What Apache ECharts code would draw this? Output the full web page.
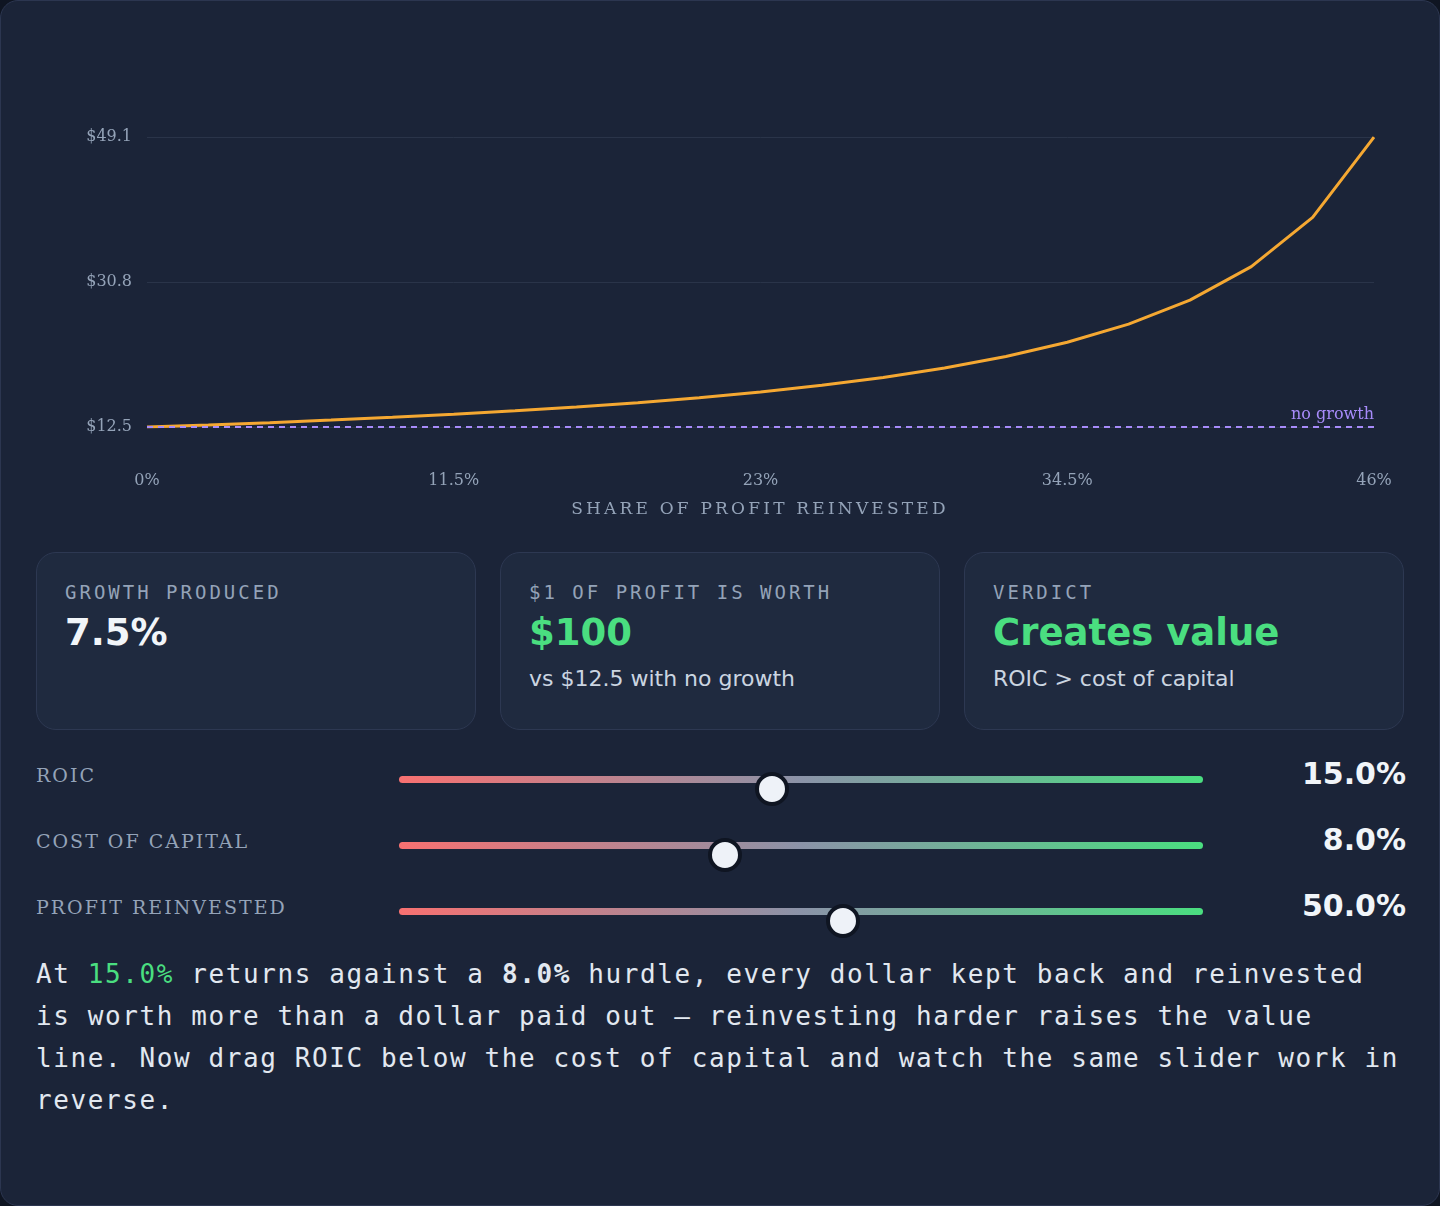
<!DOCTYPE html>
<html><head><meta charset="utf-8">
<script src="https://cdn.jsdelivr.net/npm/echarts@6/dist/echarts.min.js"></script>
<style>
body{margin:0;background:#0f1522;}
#card{position:absolute;left:0;top:0;width:1438px;height:1204px;background:#1b2438;border:1px solid #2c3650;border-radius:18px;overflow:hidden;}
#chart{position:absolute;left:0;top:0;width:1440px;height:500px;}
#xname{position:absolute;top:497px;left:0;width:1518px;text-align:center;font:17px "DejaVu Serif",serif;letter-spacing:3.2px;color:#94a3b8;}
.box{position:absolute;top:551px;width:440px;height:178px;background:#1f2a3f;border:1px solid #2d3852;border-radius:20px;box-sizing:border-box;padding:28px 28px;}
.lab{font:19px "DejaVu Sans Mono",monospace;letter-spacing:3px;color:#94a3b8;}
.val{font:bold 37px "DejaVu Sans",sans-serif;color:#f1f5f9;margin-top:8px;}
.sub{font:22px "DejaVu Sans",sans-serif;color:#cbd5e1;margin-top:12px;}
.green{color:#4ade80;}
.srow{position:absolute;left:35px;width:1370px;height:40px;}
.sl{position:absolute;left:0;top:0;font:19px "DejaVu Serif",serif;letter-spacing:2px;color:#94a3b8;}
.tr{position:absolute;left:363px;top:12px;width:804px;height:7px;border-radius:4px;background:linear-gradient(90deg,#f87171,#8b93a8 50%,#4ade80);}
.th{position:absolute;top:-4px;width:34px;height:34px;border-radius:50%;background:#eef2f8;border:4px solid #0f1522;box-sizing:border-box;transform:translateX(-17px);}
.sv{position:absolute;right:0;top:-8px;font:bold 30px "DejaVu Sans",sans-serif;color:#f1f5f9;}
#para{position:absolute;left:35px;top:952px;width:1380px;font:26px "DejaVu Sans Mono",monospace;letter-spacing:1.6px;line-height:42px;color:#e2e8f0;}
</style></head><body>
<div id="card">
<div id="chart"></div>
<div id="xname">SHARE OF PROFIT REINVESTED</div>
<div class="box" style="left:35px"><div class="lab">GROWTH PRODUCED</div><div class="val">7.5%</div></div>
<div class="box" style="left:499px"><div class="lab">$1 OF PROFIT IS WORTH</div><div class="val green">$100</div><div class="sub">vs $12.5 with no growth</div></div>
<div class="box" style="left:963px"><div class="lab">VERDICT</div><div class="val green">Creates value</div><div class="sub">ROIC &gt; cost of capital</div></div>
<div class="srow" style="top:763px"><div class="sl">ROIC</div><div class="tr"><div class="th" style="left:373px"></div></div><div class="sv">15.0%</div></div>
<div class="srow" style="top:829px"><div class="sl">COST OF CAPITAL</div><div class="tr"><div class="th" style="left:326px"></div></div><div class="sv">8.0%</div></div>
<div class="srow" style="top:895px"><div class="sl">PROFIT REINVESTED</div><div class="tr"><div class="th" style="left:444px"></div></div><div class="sv">50.0%</div></div>
<div id="para">At <b class="green" style="font-weight:normal">15.0%</b> returns against a <b>8.0%</b> hurdle, every dollar kept back and reinvested is worth more than a dollar paid out — reinvesting harder raises the value line. Now drag ROIC below the cost of capital and watch the same slider work in reverse.</div>
</div>
<script>
// reinvestment share (%) and value of $1 of profit
const reinvest = [0, 2.3, 4.6, 6.9, 9.2, 11.5, 13.8, 16.1, 18.4, 20.7, 23, 25.3, 27.6, 29.9, 32.2, 34.5, 36.8, 39.1, 41.4, 43.7, 46];
const worth = [12.5, 12.76, 13.05, 13.37, 13.72, 14.1, 14.54, 15.02, 15.57, 16.2, 16.92, 17.77, 18.76, 19.94, 21.39, 23.19, 25.48, 28.52, 32.74, 38.96, 49.09];
const noGrowth = 12.5;
const yTicks = [12.5, 30.8, 49.1];

const chart = echarts.init(document.getElementById("chart"));
const serif = '"DejaVu Serif", serif';
chart.setOption({
  animation: false,
  grid: { left: 146, right: 67, top: 136, bottom: 74 },
  xAxis: {
    type: "value", min: 0, max: 46, interval: 11.5,
    axisLine: { show: false }, axisTick: { show: false }, splitLine: { show: false },
    axisLabel: { color: "#94a3b8", fontFamily: serif, fontSize: 16, margin: 46, formatter: v => v + "%" }
  },
  yAxis: {
    type: "value", min: 12.5, max: 49.1, interval: 18.3,
    axisLine: { show: false }, axisTick: { show: false },
    splitLine: { lineStyle: { color: "#2a3449" } },
    axisLabel: { color: "#94a3b8", fontFamily: serif, fontSize: 16, margin: 15, formatter: v => "$" + v.toFixed(1) }
  },
  series: [{
    type: "line", data: reinvest.map((x, i) => [x, worth[i]]),
    showSymbol: false, lineStyle: { color: "#f5a832", width: 3 }, itemStyle: { color: "#f5a832" },
    markLine: {
      symbol: "none", silent: true,
      lineStyle: { color: "#a78bfa", type: [6, 5], width: 2 },
      label: { position: "insideEndTop", formatter: "no growth", color: "#a78bfa", fontFamily: serif, fontSize: 16, distance: [0, 4] },
      data: [{ yAxis: noGrowth }]
    }
  }]
});
</script>
</body></html>
